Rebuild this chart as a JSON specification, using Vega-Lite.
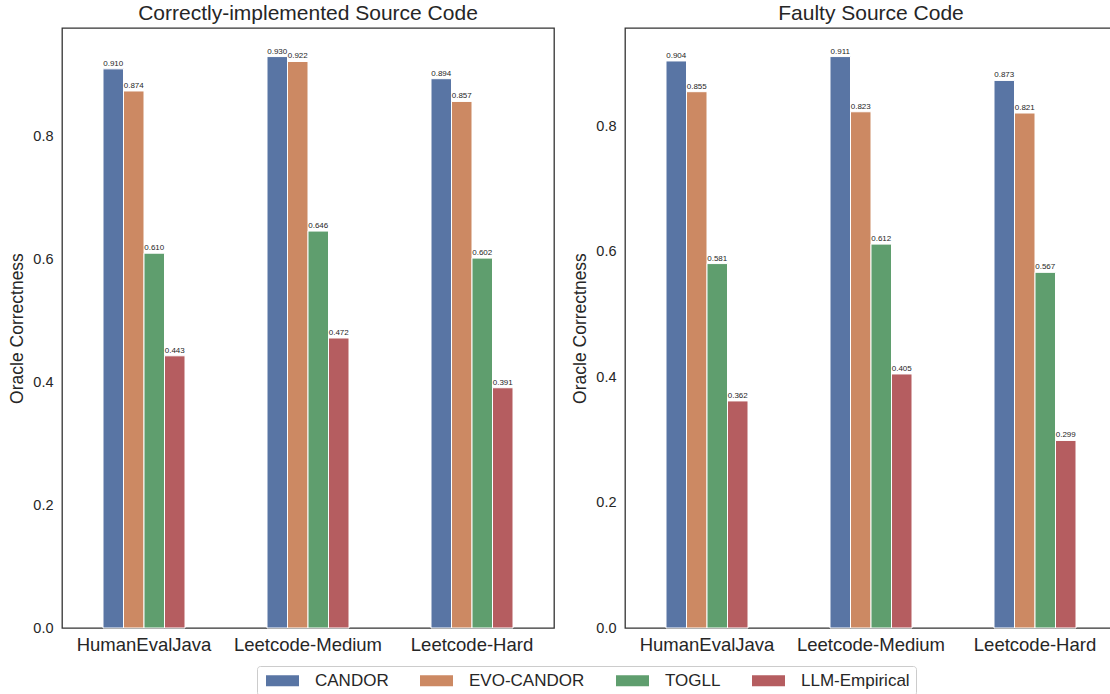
{
  "$schema": "https://vega.github.io/schema/vega-lite/v6.json",
  "padding": {"left": 8, "top": 2, "right": 0, "bottom": 0},
  "background": "white",
  "config": {
    "font": "Liberation Sans",
    "view": {"stroke": "#333333", "strokeWidth": 1.3},
    "axis": {"grid": false, "domain": false, "ticks": false, "labelColor": "#262626", "titleColor": "#262626"},
    "title": {"fontSize": 21, "fontWeight": "normal", "color": "#262626", "offset": 4}
  },
  "datasets": {
    "d": [
      {"panel": "correct", "bench": "HumanEvalJava", "method": "CANDOR", "value": 0.910},
      {"panel": "correct", "bench": "HumanEvalJava", "method": "EVO-CANDOR", "value": 0.874},
      {"panel": "correct", "bench": "HumanEvalJava", "method": "TOGLL", "value": 0.610},
      {"panel": "correct", "bench": "HumanEvalJava", "method": "LLM-Empirical", "value": 0.443},
      {"panel": "correct", "bench": "Leetcode-Medium", "method": "CANDOR", "value": 0.930},
      {"panel": "correct", "bench": "Leetcode-Medium", "method": "EVO-CANDOR", "value": 0.922},
      {"panel": "correct", "bench": "Leetcode-Medium", "method": "TOGLL", "value": 0.646},
      {"panel": "correct", "bench": "Leetcode-Medium", "method": "LLM-Empirical", "value": 0.472},
      {"panel": "correct", "bench": "Leetcode-Hard", "method": "CANDOR", "value": 0.894},
      {"panel": "correct", "bench": "Leetcode-Hard", "method": "EVO-CANDOR", "value": 0.857},
      {"panel": "correct", "bench": "Leetcode-Hard", "method": "TOGLL", "value": 0.602},
      {"panel": "correct", "bench": "Leetcode-Hard", "method": "LLM-Empirical", "value": 0.391},
      {"panel": "faulty", "bench": "HumanEvalJava", "method": "CANDOR", "value": 0.904},
      {"panel": "faulty", "bench": "HumanEvalJava", "method": "EVO-CANDOR", "value": 0.855},
      {"panel": "faulty", "bench": "HumanEvalJava", "method": "TOGLL", "value": 0.581},
      {"panel": "faulty", "bench": "HumanEvalJava", "method": "LLM-Empirical", "value": 0.362},
      {"panel": "faulty", "bench": "Leetcode-Medium", "method": "CANDOR", "value": 0.911},
      {"panel": "faulty", "bench": "Leetcode-Medium", "method": "EVO-CANDOR", "value": 0.823},
      {"panel": "faulty", "bench": "Leetcode-Medium", "method": "TOGLL", "value": 0.612},
      {"panel": "faulty", "bench": "Leetcode-Medium", "method": "LLM-Empirical", "value": 0.405},
      {"panel": "faulty", "bench": "Leetcode-Hard", "method": "CANDOR", "value": 0.873},
      {"panel": "faulty", "bench": "Leetcode-Hard", "method": "EVO-CANDOR", "value": 0.821},
      {"panel": "faulty", "bench": "Leetcode-Hard", "method": "TOGLL", "value": 0.567},
      {"panel": "faulty", "bench": "Leetcode-Hard", "method": "LLM-Empirical", "value": 0.299}
    ]
  },
  "spacing": 16,
  "resolve": {"scale": {"y": "independent"}},
  "hconcat": [
    {
      "title": "Correctly-implemented Source Code",
      "width": 492,
      "height": 600,
      "data": {"name": "d"},
      "transform": [{"filter": "datum.panel == 'correct'"}],
      "encoding": {
        "x": {"field": "bench", "type": "nominal", "sort": ["HumanEvalJava", "Leetcode-Medium", "Leetcode-Hard"], "scale": {"paddingInner": 0.5, "paddingOuter": 0.25}, "axis": {"labelAngle": 0, "title": null, "labelFontSize": 18.5, "labelPadding": 7}},
        "xOffset": {"field": "method", "sort": ["CANDOR", "EVO-CANDOR", "TOGLL", "LLM-Empirical"], "scale": {"paddingInner": 0, "paddingOuter": 0}},
        "y": {"field": "value", "type": "quantitative", "scale": {"domain": [0, 0.9765], "nice": false}, "axis": {"values": [0, 0.2, 0.4, 0.6, 0.8], "format": ".1f", "title": "Oracle Correctness", "titleFontSize": 17.5, "titleFontWeight": "normal", "titlePadding": 6, "labelFontSize": 14.5, "labelPadding": 9}},
        "color": {"field": "method", "type": "nominal", "sort": ["CANDOR", "EVO-CANDOR", "TOGLL", "LLM-Empirical"], "scale": {"domain": ["CANDOR", "EVO-CANDOR", "TOGLL", "LLM-Empirical"], "range": ["#5975A4", "#CC8963", "#5F9E6E", "#B55D60"]},
          "legend": {"title": null, "orient": "none", "legendX": 195, "legendY": 638, "direction": "horizontal", "symbolType": "M-1,-1L5,-1L5,1L-1,1Z", "symbolSize": 121, "symbolStrokeWidth": 0, "labelFontSize": 17, "labelColor": "#262626", "labelOffset": 35, "columnPadding": 28, "strokeColor": "#cccccc", "fillColor": "white", "padding": 6, "cornerRadius": 3}}
      },
      "layer": [
        {"mark": {"type": "bar", "stroke": "white", "strokeWidth": 1}},
        {"mark": {"type": "text", "fontSize": 8, "baseline": "bottom", "dy": -1}, "encoding": {"text": {"field": "value", "format": ".3f"}, "color": {"value": "#262626"}}}
      ]
    },
    {
      "title": "Faulty Source Code",
      "width": 492,
      "height": 600,
      "data": {"name": "d"},
      "transform": [{"filter": "datum.panel == 'faulty'"}],
      "encoding": {
        "x": {"field": "bench", "type": "nominal", "sort": ["HumanEvalJava", "Leetcode-Medium", "Leetcode-Hard"], "scale": {"paddingInner": 0.5, "paddingOuter": 0.25}, "axis": {"labelAngle": 0, "title": null, "labelFontSize": 18.5, "labelPadding": 7}},
        "xOffset": {"field": "method", "sort": ["CANDOR", "EVO-CANDOR", "TOGLL", "LLM-Empirical"], "scale": {"paddingInner": 0, "paddingOuter": 0}},
        "y": {"field": "value", "type": "quantitative", "scale": {"domain": [0, 0.95655], "nice": false}, "axis": {"values": [0, 0.2, 0.4, 0.6, 0.8], "format": ".1f", "title": "Oracle Correctness", "titleFontSize": 17.5, "titleFontWeight": "normal", "titlePadding": 6, "labelFontSize": 14.5, "labelPadding": 9}},
        "color": {"field": "method", "type": "nominal", "sort": ["CANDOR", "EVO-CANDOR", "TOGLL", "LLM-Empirical"]}
      },
      "layer": [
        {"mark": {"type": "bar", "stroke": "white", "strokeWidth": 1}},
        {"mark": {"type": "text", "fontSize": 8, "baseline": "bottom", "dy": -1}, "encoding": {"text": {"field": "value", "format": ".3f"}, "color": {"value": "#262626"}}}
      ]
    }
  ]
}
